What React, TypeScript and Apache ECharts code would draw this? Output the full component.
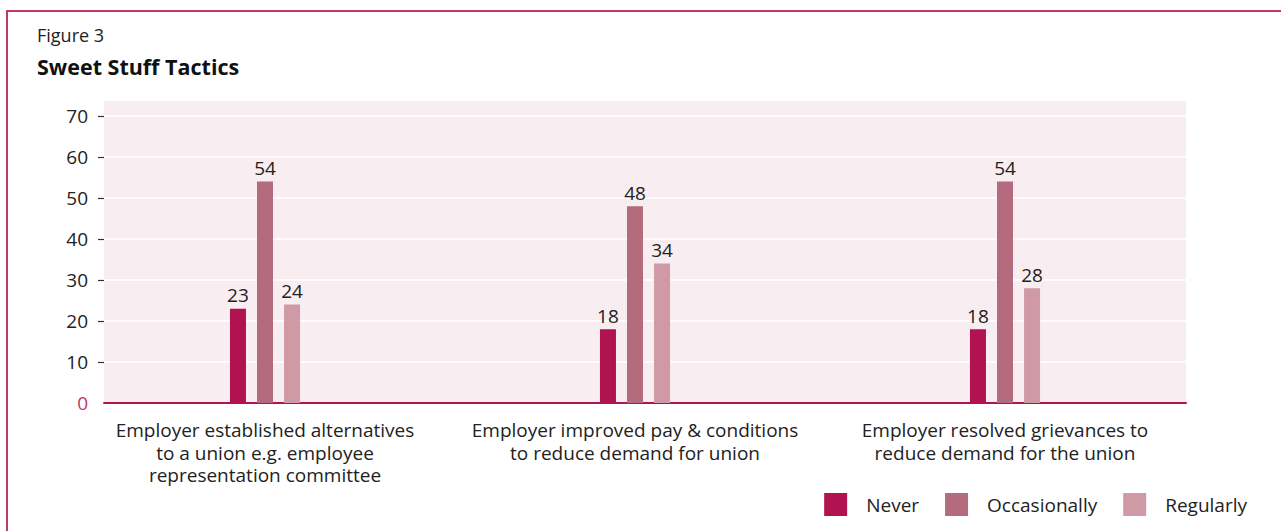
import React, { useEffect, useRef } from "react";
import * as echarts from "echarts";

const categories = [
  "Employer established alternatives\nto a union e.g. employee\nrepresentation committee",
  "Employer improved pay & conditions\nto reduce demand for union",
  "Employer resolved grievances to\nreduce demand for the union",
];
const seriesNames = ["Never", "Occasionally", "Regularly"];
const never = [23, 18, 18];
const occasionally = [54, 48, 54];
const regularly = [24, 34, 28];
const yTicks = [0, 10, 20, 30, 40, 50, 60, 70];
const colors = ["#b0134f", "#b56b7e", "#cf9aa5"];

const FONT = "'Open Sans', sans-serif";

export default function App() {
  const ref = useRef<HTMLDivElement>(null);
  useEffect(() => {
    if (!ref.current) return;
    const chart = echarts.init(ref.current, undefined, { renderer: "svg" });
    const values = [never, occasionally, regularly];
    chart.setOption({
      animation: false,
      backgroundColor: "#ffffff",
      textStyle: { fontFamily: FONT },
      title: [
        {
          text: "Figure 3",
          left: 32,
          top: 21,
          textStyle: { fontFamily: FONT, fontWeight: "normal", fontSize: 18, color: "#222" },
        },
        {
          text: "Sweet Stuff Tactics",
          left: 32,
          top: 50,
          textStyle: { fontFamily: FONT, fontWeight: "bold", fontSize: 21.5, color: "#111" },
        },
      ],
      graphic: [
        {
          type: "rect",
          shape: { x: 7, y: 11, width: 1400, height: 700 },
          style: { fill: "transparent", stroke: "#c0386a", lineWidth: 2 },
          silent: true,
        },
        {
          type: "rect",
          shape: { x: 104, y: 101, width: 1082, height: 15 },
          style: { fill: "#f8edf0" },
          silent: true,
        },
      ],
      legend: {
        data: seriesNames,
        right: 29,
        bottom: 10,
        itemWidth: 23,
        itemHeight: 23,
        itemGap: 26,
        icon: "rect",
        textStyle: { fontFamily: FONT, fontSize: 19, color: "#222", padding: [0, 0, 0, 14] },
      },
      grid: [
        {
          left: 104,
          right: 95,
          top: 116,
          bottom: 128,
          show: true,
          backgroundColor: "#f8edf0",
          borderWidth: 0,
        },
        { left: 80, width: 1110, top: 116, bottom: 128 },
      ],
      xAxis: [
        {
          gridIndex: 0,
          type: "category",
          data: categories,
          axisLine: { show: true, lineStyle: { color: "#b0134f", width: 2 } },
          axisTick: { show: false },
          axisLabel: { show: false },
          splitLine: { show: false },
        },
        {
          gridIndex: 1,
          type: "category",
          data: categories,
          axisLine: { show: false },
          axisTick: { show: false },
          splitLine: { show: false },
          axisLabel: {
            margin: 16,
            fontFamily: FONT,
            fontSize: 19,
            lineHeight: 22.5,
            color: "#222",
            interval: 0,
          },
        },
      ],
      yAxis: [
        {
          gridIndex: 0,
          type: "value",
          min: 0,
          max: 70,
          interval: 10,
          axisLine: { show: false },
          axisTick: {
            show: true,
            length: 6,
            lineStyle: { color: "#333", width: 1.2 },
            customValues: yTicks.filter((v) => v !== 0),
          },
          splitLine: { show: true, lineStyle: { color: "#ffffff", width: 1.5 } },
          axisLabel: {
            margin: 16,
            fontFamily: FONT,
            fontSize: 19,
            color: (v: any) => (Number(v) === 0 ? "#c0386a" : "#222"),
            customValues: yTicks,
          },
        },
        { gridIndex: 1, type: "value", min: 0, max: 70, show: false },
      ],
      series: seriesNames.map((name, i) => ({
        name,
        type: "bar",
        xAxisIndex: 1,
        yAxisIndex: 1,
        data: values[i],
        barWidth: 16,
        barGap: "69%",
        itemStyle: { color: colors[i] },
        label: {
          show: true,
          position: "top",
          distance: 4,
          fontFamily: FONT,
          fontSize: 19,
          color: "#222",
        },
      })),
    });
    return () => chart.dispose();
  }, []);
  return (
    <div
      ref={ref}
      style={{ position: "absolute", left: 0, top: 0, width: 1281, height: 531 }}
    />
  );
}
